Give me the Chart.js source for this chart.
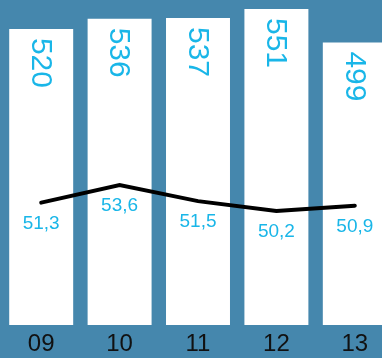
<!DOCTYPE html>
<html>
<head>
<meta charset="utf-8">
<script src="https://cdn.jsdelivr.net/npm/chart.js@4"></script>
<style>
  html, body { margin: 0; padding: 0; overflow: hidden; background: #4587ad; }
  #wrap { width: 394px; height: 358px; }
</style>
</head>
<body>
<div id="wrap"><canvas id="chart" width="394" height="358"></canvas></div>
<script>
const years = ["09", "10", "11", "12", "13"];
const barValues = [520, 536, 537, 551, 499];
const lineValues = [51.3, 53.6, 51.5, 50.2, 50.9];

const cyan = "#19b6e8";

const valueLabels = {
  id: "valueLabels",
  afterDatasetsDraw(chart) {
    const ctx = chart.ctx;
    ctx.save();
    ctx.fillStyle = cyan;

    // rotated labels inside the bars
    const bars = chart.getDatasetMeta(1).data;
    ctx.font = "30px 'Liberation Sans', Arial, sans-serif";
    ctx.textAlign = "left";
    ctx.textBaseline = "middle";
    bars.forEach((bar, i) => {
      ctx.save();
      ctx.translate(bar.x - 1, bar.y + 9);
      ctx.rotate(Math.PI / 2);
      ctx.fillText(String(barValues[i]), 0, 0);
      ctx.restore();
    });

    // labels under the line points
    const points = chart.getDatasetMeta(0).data;
    ctx.font = "19px 'Liberation Sans', Arial, sans-serif";
    ctx.textAlign = "center";
    points.forEach((pt, i) => {
      const txt = lineValues[i].toFixed(1).replace(".", ",");
      ctx.fillText(txt, pt.x, pt.y + 21);
    });
    ctx.restore();
  },
};

new Chart("chart", {
  data: {
    labels: years,
    datasets: [
      {
        type: "line",
        data: lineValues,
        yAxisID: "y1",
        borderColor: "#000000",
        borderWidth: 4,
        borderCapStyle: "round",
        pointRadius: 0,
        tension: 0,
        order: 0,
      },
      {
        type: "bar",
        data: barValues,
        yAxisID: "y",
        backgroundColor: "#ffffff",
        categoryPercentage: 1,
        barPercentage: 0.816,
        order: 1,
      },
    ],
  },
  options: {
    responsive: false,
    animation: false,
    layout: {
      padding: { left: 2, right: 0, top: 0, bottom: 0 },
    },
    scales: {
      x: {
        grid: { display: false, drawTicks: false },
        border: { display: false },
        afterFit: (scale) => {
          scale.height = 33;
        },
        ticks: {
          color: "#111111",
          padding: 5,
          font: { size: 24, family: "'Liberation Sans', Arial, sans-serif" },
        },
      },
      y: {
        display: false,
        min: 59,
        max: 565,
      },
      y1: {
        display: false,
        min: 35.3,
        max: 77.8,
      },
    },
    plugins: {
      legend: { display: false },
      tooltip: { enabled: false },
    },
  },
  plugins: [valueLabels],
});
</script>
</body>
</html>
